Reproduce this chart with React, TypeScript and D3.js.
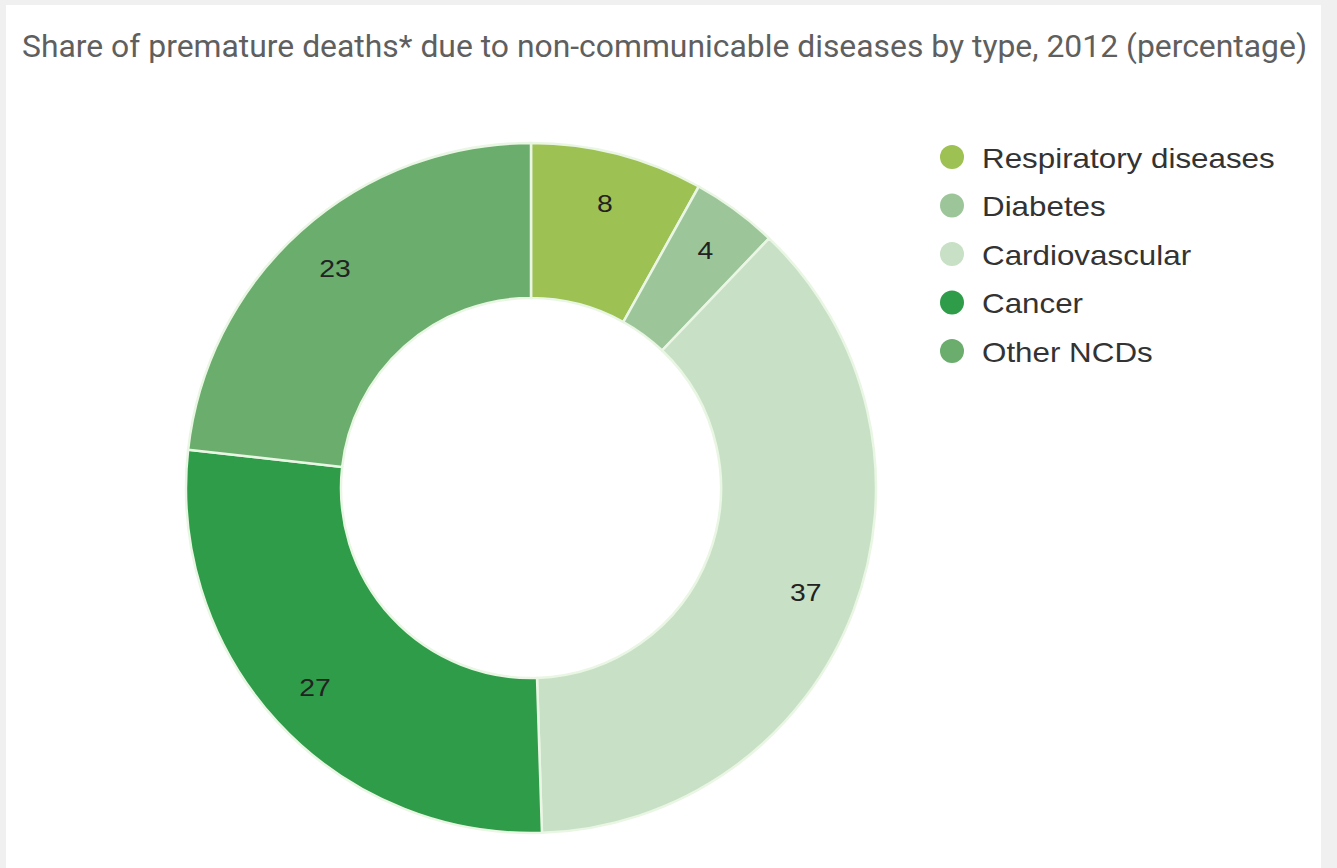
import React from "react";
import * as d3 from "d3";

const categories = ["Respiratory diseases", "Diabetes", "Cardiovascular", "Cancer", "Other NCDs"];
const values = [8, 4, 37, 27, 23];
const colors = ["#9dc153", "#9cc69a", "#c8e0c5", "#2e9c49", "#6aad6d"];
const title = "Share of premature deaths* due to non-communicable diseases by type, 2012 (percentage)";

export default function App() {
  const W = 1337, H = 868;
  const cx = 531, cy = 488, rOuter = 345, rInner = 190, rLabel = 294;
  const pie = d3.pie<number>().sort(null).value((d) => d)(values);
  const arc = d3.arc<d3.PieArcDatum<number>>().innerRadius(rInner).outerRadius(rOuter);
  const labelArc = d3.arc<d3.PieArcDatum<number>>().innerRadius(rLabel).outerRadius(rLabel);
  const legendY = d3.scalePoint<string>().domain(categories).range([157, 351]);
  return (
    <svg width={W} height={H} style={{ position: "absolute", left: 0, top: 0, display: "block" }}>
      <rect x={0} y={0} width={W} height={H} fill="#f0f0f0" />
      <rect x={6} y={5} width={1315} height={H} fill="#ffffff" />
      <text x={22} y={57} fontFamily="Roboto, 'Liberation Sans Narrow', sans-serif" fontSize={32}
        fill="#5f5f5f" textLength={1285} lengthAdjust="spacingAndGlyphs">{title}</text>
      <g transform={`translate(${cx},${cy})`}>
        {pie.map((p, i) => (
          <path key={i} d={arc(p) || ""} fill={colors[i]} stroke="#eaf6e4" strokeWidth={2.5} />
        ))}
        {pie.map((p, i) => {
          const [x, y] = labelArc.centroid(p);
          return (
            <g key={"l" + i} transform={`translate(${x},${y}) scale(1.18,1)`}>
              <text x={0} y={0} textAnchor="middle" dominantBaseline="central"
                fontFamily="'Liberation Sans', Arial, sans-serif" fontSize={24} fill="#222">{values[i]}</text>
            </g>
          );
        })}
      </g>
      {categories.map((c, i) => (
        <g key={c} transform={`translate(0,${legendY(c)})`}>
          <circle cx={952} cy={0} r={12} fill={colors[i]} />
          <g transform="translate(982,0) scale(1.12,1)">
            <text x={0} y={1} dominantBaseline="central" fontFamily="'Liberation Sans', Arial, sans-serif"
              fontSize={28} fill="#333">{c}</text>
          </g>
        </g>
      ))}
    </svg>
  );
}
